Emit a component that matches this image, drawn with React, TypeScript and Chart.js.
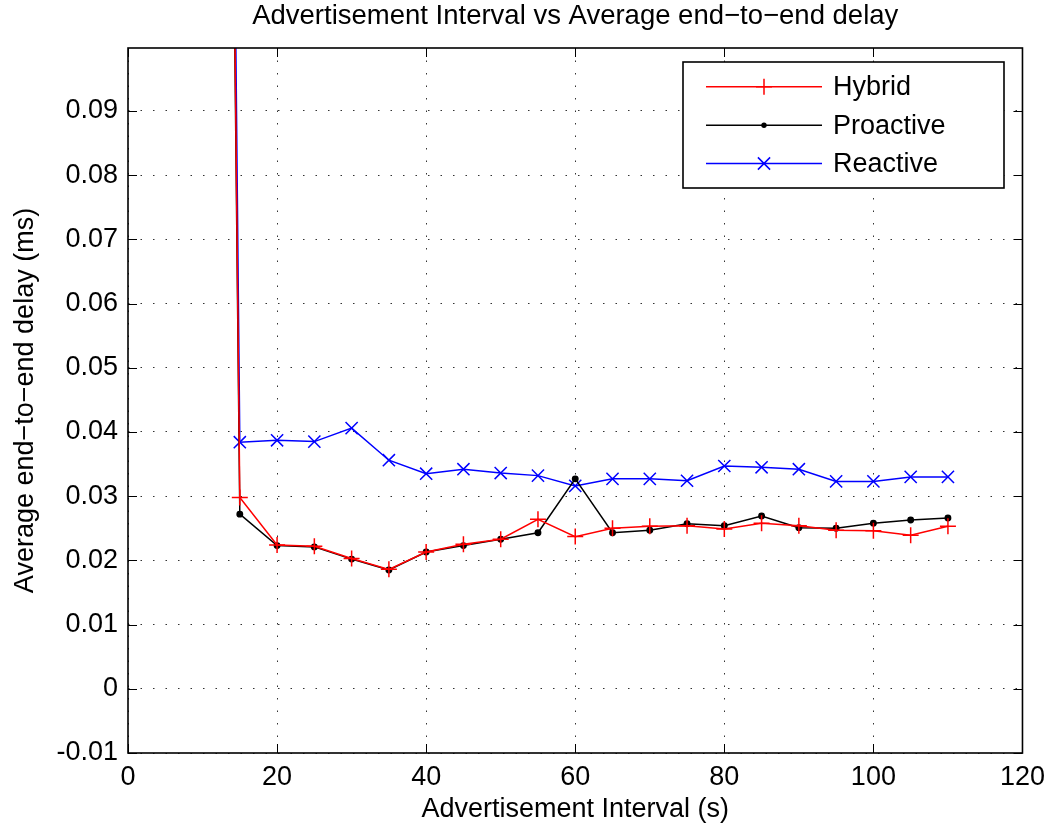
import React, { useEffect, useRef } from 'react';
import { Chart, registerables } from 'chart.js';

Chart.register(...registerables);

const FONT = "'Liberation Sans', Arial, Helvetica, sans-serif";

const chartTitle = 'Advertisement Interval vs Average end\u2212to\u2212end delay';
const xAxisTitle = 'Advertisement Interval (s)';
const yAxisTitle = 'Average end\u2212to\u2212end delay (ms)';

const intervals = [10, 15, 20, 25, 30, 35, 40, 45, 50, 55, 60, 65, 70, 75, 80, 85, 90, 95, 100, 105, 110];
const hybrid = [0.58, 0.0298, 0.0224, 0.0222, 0.0203, 0.0186, 0.0213, 0.0225, 0.0233, 0.0264, 0.0237, 0.025, 0.0253, 0.0254, 0.0249, 0.0258, 0.0254, 0.0247, 0.0246, 0.0239, 0.0253];
const proactive = [0.57, 0.0272, 0.0223, 0.0221, 0.0202, 0.0185, 0.0213, 0.0223, 0.0233, 0.0243, 0.0327, 0.0243, 0.0247, 0.0257, 0.0254, 0.0269, 0.0251, 0.025, 0.0258, 0.0263, 0.0266];
const reactive = [0.62, 0.0384, 0.0387, 0.0385, 0.0406, 0.0356, 0.0335, 0.0342, 0.0336, 0.0332, 0.0316, 0.0327, 0.0327, 0.0324, 0.0347, 0.0345, 0.0342, 0.0323, 0.0323, 0.033, 0.033];

const seriesNames = ['Hybrid', 'Proactive', 'Reactive'];
const seriesColors = ['#ff0000', '#000000', '#0000ff'];
const seriesMarkers = ['cross', 'circle', 'crossRot'];

const xTicks = [0, 20, 40, 60, 80, 100, 120];
const xTickLabels = ['0', '20', '40', '60', '80', '100', '120'];
const yTicks = [-0.01, 0, 0.01, 0.02, 0.03, 0.04, 0.05, 0.06, 0.07, 0.08, 0.09];
const yTickLabels = ['-0.01', '0', '0.01', '0.02', '0.03', '0.04', '0.05', '0.06', '0.07', '0.08', '0.09'];
const xMin = 0;
const xMax = 120;
const yMin = -0.01;
const yMax = 0.0998;

const LINE_W = 1.5;

function labelFor(ticks: number[], labels: string[], v: number) {
  for (let i = 0; i < ticks.length; i++) {
    if (Math.abs(ticks[i] - v) < 1e-9) return labels[i];
  }
  return '';
}

function drawMarker(ctx: CanvasRenderingContext2D, style: string, x: number, y: number, color: string) {
  ctx.save();
  ctx.strokeStyle = color;
  ctx.fillStyle = color;
  ctx.lineWidth = LINE_W;
  ctx.beginPath();
  if (style === 'cross') {
    ctx.moveTo(x - 8, y);
    ctx.lineTo(x + 8, y);
    ctx.moveTo(x, y - 8);
    ctx.lineTo(x, y + 8);
    ctx.stroke();
  } else if (style === 'crossRot') {
    const o = 6.1;
    ctx.moveTo(x - o, y - o);
    ctx.lineTo(x + o, y + o);
    ctx.moveTo(x - o, y + o);
    ctx.lineTo(x + o, y - o);
    ctx.stroke();
  } else {
    ctx.arc(x, y, 2.7, 0, Math.PI * 2);
    ctx.fill();
  }
  ctx.restore();
}

const framePlugin = {
  id: 'matlabFrame',
  afterDraw(chart: any) {
    const ctx: CanvasRenderingContext2D = chart.ctx;
    const { left, right, top, bottom } = chart.chartArea;
    const xs = chart.scales.x;
    const ys = chart.scales.y;
    ctx.save();
    // inward tick marks
    ctx.strokeStyle = '#000';
    ctx.lineWidth = 1;
    ctx.beginPath();
    const tl = 9;
    xTicks.forEach((v) => {
      const px = Math.round(xs.getPixelForValue(v)) + 0.5;
      ctx.moveTo(px, bottom);
      ctx.lineTo(px, bottom - tl);
      ctx.moveTo(px, top);
      ctx.lineTo(px, top + tl);
    });
    yTicks.forEach((v) => {
      const py = Math.round(ys.getPixelForValue(v)) + 0.5;
      ctx.moveTo(left, py);
      ctx.lineTo(left + tl, py);
      ctx.moveTo(right, py);
      ctx.lineTo(right - tl, py);
    });
    ctx.stroke();
    // box
    ctx.lineWidth = 1.6;
    ctx.strokeRect(left, top, right - left, bottom - top);

    // legend
    const lx0 = 683;
    const ly0 = 62;
    const lw = 321;
    const lh = 126;
    ctx.fillStyle = '#fff';
    ctx.fillRect(lx0, ly0, lw, lh);
    ctx.lineWidth = 1.6;
    ctx.strokeStyle = '#000';
    ctx.strokeRect(lx0, ly0, lw, lh);
    const rows = [86.7, 125.3, 163.5];
    seriesNames.forEach((name, i) => {
      const y = rows[i];
      ctx.strokeStyle = seriesColors[i];
      ctx.lineWidth = LINE_W;
      ctx.beginPath();
      ctx.moveTo(706, y);
      ctx.lineTo(822, y);
      ctx.stroke();
      drawMarker(ctx, seriesMarkers[i], 764, y, seriesColors[i]);
      ctx.fillStyle = '#000';
      ctx.font = `27px ${FONT}`;
      ctx.textAlign = 'left';
      ctx.textBaseline = 'middle';
      ctx.fillText(name, 833, y + 1);
    });
    ctx.restore();
  },
};

export default function App() {
  const canvasRef = useRef<HTMLCanvasElement | null>(null);

  useEffect(() => {
    const canvas = canvasRef.current;
    if (!canvas) return;
    const allSeries = [hybrid, proactive, reactive];
    const chart = new Chart(canvas, {
      type: 'line',
      data: {
        datasets: allSeries.map((vals, i) => ({
          label: seriesNames[i],
          data: intervals.map((x, k) => ({ x, y: vals[k] })),
          borderColor: seriesColors[i],
          backgroundColor: seriesColors[i],
          borderWidth: LINE_W,
          pointStyle: seriesMarkers[i] as any,
          pointRadius: seriesMarkers[i] === 'cross' ? 8 : seriesMarkers[i] === 'crossRot' ? 8.6 : 2.7,
          pointBorderColor: seriesColors[i],
          pointBackgroundColor: seriesColors[i],
          pointBorderWidth: LINE_W,
          pointHoverRadius: 0,
          tension: 0,
          fill: false,
        })),
      },
      options: {
        animation: false,
        responsive: false,
        maintainAspectRatio: false,
        devicePixelRatio: 1,
        events: [],
        layout: { padding: { left: 0, right: 30, top: 0, bottom: 0 } },
        plugins: {
          legend: { display: false },
          tooltip: { enabled: false },
          title: {
            display: true,
            text: chartTitle,
            fullSize: false,
            color: '#000',
            font: { family: FONT, size: 27.5, weight: 'normal', lineHeight: 1.2 },
            padding: { top: 0, bottom: 15 },
          },
        },
        scales: {
          x: {
            type: 'linear',
            min: xMin,
            max: xMax,
            afterBuildTicks: (s: any) => {
              s.ticks = xTicks.map((v) => ({ value: v }));
            },
            afterFit: (s: any) => {
              s.height = 75;
            },
            ticks: {
              autoSkip: false,
              maxRotation: 0,
              color: '#000',
              padding: 8,
              font: { family: FONT, size: 27, lineHeight: 1.2 },
              callback: (v: any) => labelFor(xTicks, xTickLabels, Number(v)),
            },
            grid: { color: 'rgba(0,0,0,0.8)', lineWidth: 1, drawTicks: false },
            border: { display: false, dash: [1.5, 11] },
            title: {
              display: true,
              text: xAxisTitle,
              color: '#000',
              font: { family: FONT, size: 27, lineHeight: 1.2 },
              padding: { top: 0, bottom: 2.5 },
            },
          },
          y: {
            type: 'linear',
            min: yMin,
            max: yMax,
            afterBuildTicks: (s: any) => {
              s.ticks = yTicks.map((v) => ({ value: v }));
            },
            afterFit: (s: any) => {
              s.width = 128;
            },
            ticks: {
              autoSkip: false,
              color: '#000',
              padding: 10,
              font: { family: FONT, size: 27, lineHeight: 1.2 },
              callback: (v: any) => labelFor(yTicks, yTickLabels, Number(v)),
            },
            grid: { color: 'rgba(0,0,0,0.8)', lineWidth: 1, drawTicks: false },
            border: { display: false, dash: [1.5, 11] },
            title: {
              display: true,
              text: yAxisTitle,
              color: '#000',
              font: { family: FONT, size: 27, lineHeight: 1.2 },
              padding: { top: 9, bottom: 0 },
            },
          },
        },
      },
      plugins: [framePlugin],
    } as any);
    return () => chart.destroy();
  }, []);

  return (
    <div style={{ position: 'absolute', left: 0, top: 0, width: 1053, height: 828, background: '#fff' }}>
      <canvas ref={canvasRef} width={1053} height={828} style={{ display: 'block', width: 1053, height: 828 }} />
    </div>
  );
}
